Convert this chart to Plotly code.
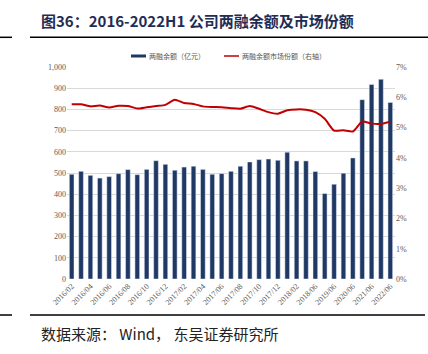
import plotly.graph_objects as go

categories = (
    [f"2016/{m:02d}" for m in range(2, 13)]
    + [f"2017/{m:02d}" for m in range(1, 13)]
    + ["2018/01", "2018/02", "2018/04", "2018/06", "2018/12", "2019/06",
       "2019/12", "2020/06", "2020/12", "2021/06", "2021/12", "2022/06"]
)
balance = [494, 508, 489, 476, 483, 497, 516, 492, 517, 558, 541, 513, 528,
           532, 517, 494, 497, 508, 532, 552, 563, 566, 560, 598, 557, 557,
           507, 403, 447, 499, 571, 846, 918, 942, 833]
share = [5.77, 5.77, 5.70, 5.73, 5.66, 5.72, 5.71, 5.63, 5.67, 5.71, 5.75,
         5.92, 5.81, 5.78, 5.70, 5.68, 5.67, 5.64, 5.62, 5.71, 5.62, 5.51,
         5.46, 5.57, 5.60, 5.59, 5.51, 5.29, 4.90, 4.91, 4.87, 5.20, 5.13,
         5.12, 5.19]
left_ticks = [0, 100, 200, 300, 400, 500, 600, 700, 800, 900, 1000]
right_ticks = [0, 1, 2, 3, 4, 5, 6, 7]

title = "图36：2016-2022H1 公司两融余额及市场份额"
source = "数据来源：Wind，东吴证券研究所"
leg1 = "两融余额（亿元）"
leg2 = "两融余额市场份额（右轴）"

W, H = 428, 354
L, R, T, B = 67, 33, 67, 75
pw, ph = W - L - R, H - T - B


def px(x):
    return (x - L) / pw


def py(y):
    return (H - B - y) / ph


NAVY = "#1F3864"
RED = "#C00000"
SERIF = "Liberation Serif, Times New Roman, serif"

fig = go.Figure()
fig.add_trace(go.Bar(x=categories, y=balance, marker_color=NAVY,
                     showlegend=False, yaxis="y"))
fig.add_trace(go.Scatter(x=categories, y=share, mode="lines",
                         line=dict(color=RED, width=2, shape="spline", smoothing=0.6),
                         showlegend=False, yaxis="y2"))

shapes = [
    dict(type="line", xref="paper", yref="paper", x0=px(0), x1=px(12), y0=py(37.3), y1=py(37.3),
         line=dict(color="black", width=1.5)),
    dict(type="line", xref="paper", yref="paper", x0=px(30), x1=px(428), y0=py(37.3), y1=py(37.3),
         line=dict(color="black", width=1.5)),
    dict(type="line", xref="paper", yref="paper", x0=px(0), x1=px(12), y0=py(315), y1=py(315),
         line=dict(color="black", width=1.5)),
    dict(type="line", xref="paper", yref="paper", x0=px(30), x1=px(425), y0=py(315), y1=py(315),
         line=dict(color="black", width=1.5)),
    dict(type="rect", xref="paper", yref="paper", x0=px(131), x1=px(146), y0=py(57.5), y1=py(54.5),
         fillcolor=NAVY, line=dict(width=0)),
    dict(type="line", xref="paper", yref="paper", x0=px(224), x1=px(239), y0=py(56), y1=py(56),
         line=dict(color=RED, width=1.5)),
]

annotations = [
    dict(text=f"<b>{title}</b>", xref="paper", yref="paper", x=px(39), y=py(20),
         xanchor="left", yanchor="middle", showarrow=False,
         font=dict(family="Noto Sans CJK SC", size=15, color="#1F2D55")),
    dict(text="数据来源：Wind，东吴证券研究所".replace("：", "： ").replace("，", "， "),
         xref="paper", yref="paper", x=px(39), y=py(333),
         xanchor="left", yanchor="middle", showarrow=False,
         font=dict(family="Noto Sans CJK SC", size=15, color="#222222")),
    dict(text=leg1, xref="paper", yref="paper", x=px(147), y=py(56),
         xanchor="left", yanchor="middle", showarrow=False,
         font=dict(family="Noto Sans CJK SC", size=7, color="#555555")),
    dict(text=leg2, xref="paper", yref="paper", x=px(240), y=py(56),
         xanchor="left", yanchor="middle", showarrow=False,
         font=dict(family="Noto Sans CJK SC", size=7, color="#555555")),
]

fig.update_layout(
    width=W, height=H,
    margin=dict(l=L, r=R, t=T, b=B),
    paper_bgcolor="white", plot_bgcolor="white",
    bargap=0.5,
    shapes=shapes, annotations=annotations,
    xaxis=dict(type="category", tickmode="array",
               tickvals=categories[0:26:2] + ["2018/06", "2019/06", "2020/06", "2021/06", "2022/06"],
               tickangle=-45, showgrid=False, showline=False, ticks="",
               tickfont=dict(family=SERIF, size=8, color="#595959")),
    yaxis=dict(range=[0, 1000], tickvals=left_ticks, tickformat=",", showgrid=True,
               gridcolor="#D9D9D9", gridwidth=1, zeroline=False, ticks="",
               tickfont=dict(family=SERIF, size=8, color="#595959")),
    yaxis2=dict(range=[0, 7], tickvals=right_ticks, ticktext=[f"{v}%" for v in right_ticks],
                overlaying="y", side="right", showgrid=False, zeroline=False, ticks="",
                tickfont=dict(family=SERIF, size=8, color="#595959")),
)

fig.write_html("out.html")
